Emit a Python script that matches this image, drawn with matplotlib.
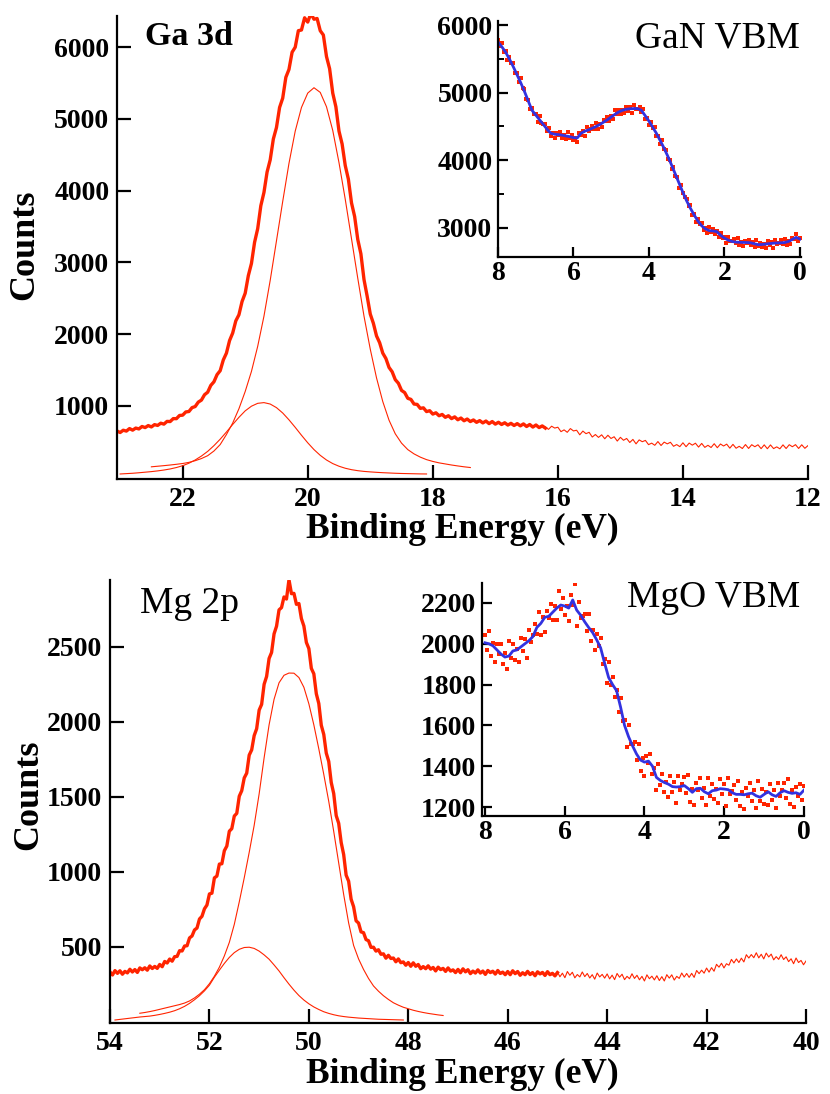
import numpy as np
import matplotlib
matplotlib.use("Agg")
import matplotlib.pyplot as plt
from matplotlib.ticker import MultipleLocator

plt.rcParams['font.family'] = ['Liberation Serif', 'DejaVu Serif']
plt.rcParams['font.weight'] = 'bold'

RED = '#ff2400'
BLUE = '#3232e0'

# ---- Ga 3d core level (binding energy in eV, counts) ----
ga_thick_range = (23.05, 16.20)      # 0.05 eV steps
ga_thick = [650, 628, 660, 648, 683, 661, 690, 678, 712, 697,
            725, 706, 738, 727, 758, 745, 783, 781, 822, 821,
            866, 870, 915, 921, 975, 990, 1052, 1080, 1155, 1190,
            1285, 1335, 1435, 1490, 1640, 1735, 1910, 2015, 2185, 2270,
            2455, 2570, 2815, 2985, 3280, 3470, 3790, 3975, 4260, 4430,
            4720, 4880, 5160, 5290, 5580, 5690, 5930, 6000, 6230, 6240,
            6410, 6350, 6470, 6390, 6400, 6230, 6170, 5870, 5700, 5360,
            5170, 4830, 4650, 4350, 4160, 3830, 3640, 3320, 3120, 2760,
            2530, 2280, 2150, 1975, 1880, 1735, 1660, 1535, 1475, 1365,
            1315, 1215, 1185, 1105, 1090, 1025, 1020, 965, 972, 920,
            932, 885, 903, 862, 880, 840, 862, 822, 846, 806,
            830, 792, 816, 781, 803, 770, 794, 762, 788, 752,
            781, 745, 771, 740, 764, 732, 756, 726, 752, 721,
            748, 712, 740, 704, 733, 697, 720, 690]
ga_tail_range = (16.20, 12.00)       # 0.05 eV steps
ga_tail = [705, 672, 716, 690, 702, 640, 665, 631, 683, 650,
           660, 596, 648, 612, 631, 565, 600, 560, 596, 541,
           590, 545, 569, 509, 561, 520, 545, 489, 532, 470,
           525, 500, 518, 459, 480, 450, 502, 447, 494, 470,
           492, 436, 460, 431, 485, 430, 481, 452, 479, 425,
           476, 421, 450, 419, 472, 416, 468, 440, 466, 410,
           463, 409, 436, 405, 460, 406, 458, 430, 457, 403,
           456, 402, 455, 404, 428, 401, 456, 405, 458, 430,
           459, 406, 457, 408, 446]
ga_main_range = (22.5, 17.4)         # fit component, 0.1 eV steps
ga_main = [150, 158, 166, 175, 185, 196, 212, 235, 265, 305,
           370, 460, 600, 760, 960, 1200, 1480, 1830, 2250, 2750,
           3300, 3850, 4380, 4830, 5160, 5360, 5435, 5370, 5170, 4840,
           4390, 3880, 3330, 2780, 2250, 1790, 1390, 1060, 800, 610,
           480, 390, 330, 285, 250, 225, 205, 190, 175, 162,
           150, 140]
ga_small_range = (23.0, 18.1)
ga_small = [50, 55, 60, 67, 75, 83, 93, 105, 120, 140,
            165, 200, 245, 300, 365, 445, 535, 635, 740, 840,
            930, 995, 1035, 1045, 1025, 975, 900, 805, 700, 590,
            485, 390, 310, 245, 195, 158, 130, 110, 96, 86,
            79, 73, 68, 64, 60, 57, 55, 53, 51, 50]

# ---- GaN valence band ----
vb_range = (8.0, 0.0)
gan_pts = [5785, 5695, 5735, 5595, 5610, 5490, 5525, 5440, 5435, 5295,
           5285, 5160, 5210, 5070, 5050, 4910, 4885, 4755, 4780, 4680,
           4690, 4570, 4650, 4555, 4530, 4530, 4440, 4485, 4355, 4402,
           4325, 4407, 4375, 4421, 4337, 4381, 4310, 4415, 4335, 4372,
           4295, 4337, 4275, 4405, 4375, 4435, 4365, 4490, 4440, 4462,
           4510, 4468, 4555, 4470, 4540, 4488, 4590, 4577, 4645, 4585,
           4655, 4610, 4740, 4683, 4745, 4688, 4745, 4693, 4795, 4733,
           4782, 4699, 4815, 4755, 4765, 4787, 4720, 4755, 4615, 4630,
           4520, 4560, 4485, 4490, 4362, 4360, 4240, 4295, 4165, 4150,
           4020, 4000, 3875, 3902, 3770, 3748, 3595, 3642, 3515, 3462,
           3435, 3325, 3345, 3195, 3200, 3085, 3125, 3060, 3075, 2973,
           3000, 2922, 3020, 2943, 2985, 2910, 2950, 2863, 2930, 2845,
           2870, 2770, 2870, 2800, 2800, 2830, 2770, 2844, 2743, 2797,
           2726, 2810, 2779, 2827, 2745, 2787, 2715, 2818, 2737, 2783,
           2715, 2763, 2707, 2805, 2743, 2791, 2709, 2826, 2768, 2779,
           2815, 2762, 2839, 2747, 2810, 2755, 2855, 2840, 2905, 2813,
           2850]
gan_smooth = [5750, 5680, 5600, 5500, 5390, 5270, 5150, 5020, 4880, 4740,
              4670, 4600, 4530, 4460, 4400, 4385, 4380, 4372, 4360, 4350,
              4335, 4330, 4400, 4430, 4450, 4475, 4500, 4530, 4565, 4600,
              4640, 4680, 4715, 4740, 4755, 4762, 4765, 4765, 4740, 4660,
              4580, 4490, 4397, 4290, 4180, 4060, 3930, 3795, 3660, 3525,
              3400, 3290, 3190, 3100, 3030, 2985, 2960, 2955, 2945, 2890,
              2850, 2820, 2800, 2790, 2788, 2786, 2784, 2780, 2765, 2752,
              2755, 2762, 2768, 2774, 2778, 2780, 2784, 2800, 2830, 2860,
              2835]

# ---- Mg 2p core level ----
mg_thick_range = (54.0, 45.0)        # 0.05 eV steps
mg_thick = [333, 313, 342, 324, 341, 318, 337, 327, 351, 333,
            349, 330, 360, 348, 361, 345, 373, 356, 370, 357,
            383, 368, 403, 393, 419, 405, 435, 437, 475, 473,
            506, 508, 560, 573, 613, 626, 686, 704, 754, 779,
            853, 858, 960, 972, 1052, 1054, 1141, 1172, 1271, 1288,
            1372, 1390, 1504, 1541, 1626, 1658, 1778, 1813, 1908, 1954,
            2078, 2116, 2250, 2302, 2422, 2462, 2586, 2637, 2746, 2761,
            2832, 2818, 2947, 2854, 2856, 2783, 2788, 2688, 2638, 2529,
            2488, 2356, 2320, 2187, 2122, 1977, 1916, 1792, 1736, 1596,
            1522, 1375, 1324, 1196, 1116, 978, 938, 818, 768, 674,
            659, 600, 595, 549, 541, 497, 498, 472, 481, 451,
            454, 425, 444, 423, 426, 401, 420, 395, 400, 378,
            396, 371, 394, 371, 383, 355, 369, 355, 374, 352,
            363, 340, 365, 349, 357, 337, 360, 339, 347, 329,
            350, 328, 354, 334, 348, 322, 339, 326, 347, 326,
            339, 317, 343, 329, 338, 319, 343, 323, 332, 315,
            336, 315, 341, 322, 336, 311, 328, 315, 337, 316,
            329, 308, 334, 320, 330, 310, 335, 315, 324, 307,
            329]
mg_tail_range = (45.0, 40.0)
mg_tail = [334, 301, 325, 295, 336, 311, 331, 294, 316, 300,
           333, 302, 323, 293, 315, 285, 326, 300, 317, 292,
           320, 287, 312, 282, 323, 298, 318, 282, 304, 288,
           321, 290, 311, 281, 304, 273, 314, 288, 305, 280,
           308, 276, 302, 273, 315, 292, 314, 279, 304, 290,
           326, 299, 323, 297, 324, 297, 343, 322, 345, 325,
           359, 332, 362, 338, 384, 365, 391, 360, 388, 378,
           417, 393, 420, 396, 425, 400, 448, 426, 449, 428,
           461, 427, 451, 420, 459, 433, 452, 414, 435, 417,
           448, 416, 434, 402, 421, 388, 426, 396, 410, 381,
           406]
mg_main_range = (53.4, 47.3)
mg_main = [58, 63, 69, 76, 84, 92, 100, 108, 116, 126,
           140, 160, 185, 215, 255, 305, 365, 440, 530, 650,
           800, 960, 1130, 1310, 1520, 1760, 1980, 2150, 2260, 2310,
           2325, 2324, 2295, 2230, 2120, 1980, 1820, 1650, 1470, 1270,
           1060, 850, 660, 510, 420, 350, 290, 240, 205, 175,
           150, 128, 112, 98, 88, 78, 70, 63, 57, 52,
           47, 43]
mg_small_range = (53.9, 48.1)
mg_small = [13, 17, 21, 25, 29, 33, 36, 39, 44, 50,
            57, 65, 75, 88, 104, 124, 148, 175, 207, 245,
            298, 345, 390, 430, 462, 484, 496, 498, 490, 472,
            447, 418, 380, 340, 295, 252, 212, 176, 146, 121,
            100, 83, 68, 57, 48, 41, 36, 32, 29, 26,
            24, 22, 20, 18, 17, 16, 15, 14, 13]

# ---- MgO valence band ----
mgo_pts = [2045, 1972, 2065, 1940, 2005, 1910, 2000, 1950, 2000, 1902,
           1955, 1878, 2015, 1932, 2000, 1923, 1975, 1913, 2030, 1967,
           2025, 1928, 2070, 2010, 2045, 2098, 2050, 2155, 2045, 2130,
           2060, 2162, 2125, 2195, 2115, 2185, 2115, 2257, 2170, 2223,
           2140, 2185, 2110, 2240, 2190, 2295, 2085, 2207, 2125, 2134,
           2148, 2064, 2145, 2013, 2070, 1968, 2050, 1990, 2030, 1902,
           1925, 1810, 1910, 1798, 1835, 1740, 1775, 1665, 1735, 1620,
           1625, 1492, 1600, 1507, 1510, 1520, 1430, 1510, 1375, 1440,
           1350, 1452, 1415, 1462, 1360, 1392, 1285, 1413, 1310, 1360,
           1275, 1321, 1247, 1351, 1275, 1324, 1218, 1354, 1285, 1312,
           1345, 1268, 1355, 1226, 1287, 1211, 1320, 1281, 1342, 1244,
           1295, 1210, 1340, 1252, 1315, 1237, 1288, 1221, 1335, 1264,
           1313, 1206, 1340, 1263, 1280, 1306, 1232, 1327, 1207, 1276,
           1190, 1292, 1255, 1316, 1228, 1282, 1195, 1327, 1228, 1290,
           1217, 1273, 1210, 1313, 1235, 1281, 1195, 1316, 1255, 1285,
           1320, 1246, 1337, 1215, 1282, 1198, 1300, 1256, 1312, 1232,
           1303]
mgo_smooth = [2005, 2000, 1990, 1970, 1950, 1935, 1940, 1965, 1970, 1985,
              2000, 2015, 2035, 2080, 2100, 2130, 2135, 2155, 2175, 2190,
              2185, 2175, 2215, 2165, 2140, 2108, 2080, 2055, 2020, 1980,
              1905, 1835, 1800, 1770, 1690, 1600, 1545, 1500, 1460, 1430,
              1420, 1425, 1400, 1345, 1330, 1320, 1312, 1300, 1298, 1300,
              1305, 1290, 1272, 1290, 1292, 1275, 1265, 1280, 1283, 1290,
              1288, 1285, 1270, 1262, 1262, 1260, 1265, 1268, 1255, 1248,
              1262, 1275, 1260, 1252, 1270, 1280, 1272, 1267, 1270, 1262,
              1283]


def grid(rng, values):
    return np.linspace(rng[0], rng[1], len(values))


W, H = 830, 1094


def box(left, top, right, bottom):
    # pixel box -> figure fraction rect
    return [left / W, 1 - bottom / H, (right - left) / W, (bottom - top) / H]


def style(ax, tick_len, pad_x, pad_y):
    for s in ('top', 'right'):
        ax.spines[s].set_visible(False)
    for s in ('left', 'bottom'):
        ax.spines[s].set_linewidth(1.6)
    ax.tick_params(direction='in', length=tick_len, width=1.6, labelsize=20)
    ax.tick_params(axis='x', pad=pad_x)
    ax.tick_params(axis='y', pad=pad_y)
    ax.set_facecolor('none')


fig = plt.figure(figsize=(W / 100, H / 100), dpi=100)

# Ga 3d panel
ax1 = fig.add_axes(box(117, 16, 808, 479))
ax1.plot(grid(ga_thick_range, ga_thick), ga_thick, color=RED, lw=2.4)
ax1.plot(grid(ga_tail_range, ga_tail), ga_tail, color=RED, lw=0.8)
ax1.plot(grid(ga_main_range, ga_main), ga_main, color=RED, lw=0.8)
ax1.plot(grid(ga_small_range, ga_small), ga_small, color=RED, lw=0.8)
ax1.set_xlim(23.05, 12.0)
ax1.set_ylim(-20, 6435)
ax1.set_xticks([22, 20, 18, 16, 14, 12])
ax1.set_yticks([1000, 2000, 3000, 4000, 5000, 6000])
style(ax1, 10, 6, 5.5)

ins1 = fig.add_axes(box(498, 21, 801, 257))
ins1.plot(grid(vb_range, gan_pts), gan_pts, 's', ms=2.6, mew=0, color=RED)
ins1.plot(grid(vb_range, gan_smooth), gan_smooth, color=BLUE, lw=2)
ins1.set_xlim(8.0, -0.03)
ins1.set_ylim(2570, 6060)
ins1.set_xticks([8, 6, 4, 2, 0])
ins1.set_yticks([3000, 4000, 5000, 6000])
ins1.yaxis.set_minor_locator(MultipleLocator(500))
style(ins1, 7.5, 3, 4)
ins1.tick_params(which='minor', direction='in', length=4, width=1.4)

# Mg 2p panel
ax2 = fig.add_axes(box(110, 580, 806, 1023))
ax2.plot(grid(mg_thick_range, mg_thick), mg_thick, color=RED, lw=2.4)
ax2.plot(grid(mg_tail_range, mg_tail), mg_tail, color=RED, lw=0.8)
ax2.plot(grid(mg_main_range, mg_main), mg_main, color=RED, lw=0.8)
ax2.plot(grid(mg_small_range, mg_small), mg_small, color=RED, lw=0.8)
ax2.set_xlim(54.0, 40.0)
ax2.set_ylim(-7, 2945)
ax2.set_xticks([54, 52, 50, 48, 46, 44, 42, 40])
ax2.set_yticks([500, 1000, 1500, 2000, 2500])
style(ax2, 10, 6, 5.5)

ins2 = fig.add_axes(box(482, 583, 804, 816))
ins2.plot(grid(vb_range, mgo_pts), mgo_pts, 's', ms=2.6, mew=0, color=RED)
ins2.plot(grid(vb_range, mgo_smooth), mgo_smooth, color=BLUE, lw=2)
ins2.set_xlim(8.075, 0.0)
ins2.set_ylim(1156, 2298)
ins2.set_xticks([8, 6, 4, 2, 0])
ins2.set_yticks([1200, 1400, 1600, 1800, 2000, 2200])
style(ins2, 7.5, 3, 4)

# labels
fig.text(25 / W, 1 - 245 / H, 'Counts', rotation=90, ha='center', va='center', fontsize=26)
fig.text(29 / W, 1 - 795 / H, 'Counts', rotation=90, ha='center', va='center', fontsize=26)
fig.text(462 / W, 1 - 538 / H, 'Binding Energy (eV)', ha='center', va='baseline', fontsize=25.5)
fig.text(462 / W, 1 - 1083 / H, 'Binding Energy (eV)', ha='center', va='baseline', fontsize=25.5)

fig.text(145 / W, 1 - 45 / H, 'Ga 3d', ha='left', va='baseline', fontsize=24.5)
fig.text(800 / W, 1 - 48 / H, 'GaN VBM', ha='right', va='baseline', fontsize=27, fontweight='normal')
fig.text(140 / W, 1 - 613 / H, 'Mg 2p', ha='left', va='baseline', fontsize=27, fontweight='normal')
fig.text(800 / W, 1 - 607 / H, 'MgO VBM', ha='right', va='baseline', fontsize=27, fontweight='normal')

fig.savefig('out.png', dpi=100)
